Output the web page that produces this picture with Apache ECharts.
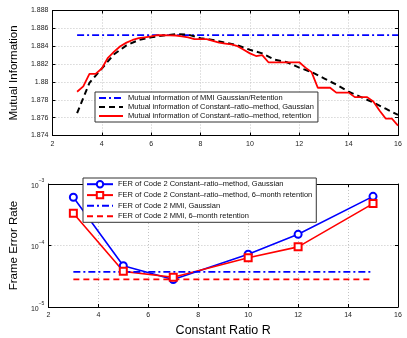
<!DOCTYPE html>
<html>
<head>
<meta charset="utf-8">
<script src="https://cdn.jsdelivr.net/npm/echarts@6/dist/echarts.min.js"></script>
<style>
html, body { margin: 0; padding: 0; background: #fff; }
#chart { width: 407px; height: 338px; }
</style>
</head>
<body>
<div id="chart"></div>
<script>
// top panel: mutual information vs constant ratio R
const mmiMI = 1.88525
const mmiRange = [3, 16]

const gaussR = [3, 3.5, 4, 4.5, 5, 5.5, 6, 6.5, 7, 7.5, 8, 8.5, 9, 9.5, 10, 10.5, 11, 11.5, 12, 12.5, 13, 13.5, 14, 14.5, 15, 15.5, 16]
const gaussMI = [1.8765, 1.8799, 1.8815, 1.8831, 1.8841, 1.8847, 1.8850, 1.8852, 1.88535, 1.8853, 1.8849, 1.8847, 1.8844, 1.8841, 1.8836, 1.8832, 1.8825, 1.8822, 1.8816, 1.8811, 1.8804, 1.8797, 1.8789, 1.8783, 1.8777, 1.8770, 1.8763]

const retR = [3, 3.25, 3.5, 3.75, 4, 4.25, 4.5, 4.75, 5, 5.25, 5.5, 5.75, 6, 6.25, 6.5, 6.75, 7, 7.25, 7.5, 7.75, 8, 8.25, 8.5, 8.75, 9, 9.25, 9.5, 9.75, 10, 10.25, 10.5, 10.75, 11, 11.25, 11.5, 11.75, 12, 12.25, 12.5, 12.75, 13, 13.25, 13.5, 13.75, 14, 14.25, 14.5, 14.75, 15, 15.25, 15.5, 15.75, 16]
const retMI = [1.8789, 1.8795, 1.8809, 1.8809, 1.8815, 1.8827, 1.8834, 1.8840, 1.8844, 1.8847, 1.8849, 1.8850, 1.8851, 1.88523, 1.88525, 1.88522, 1.8852, 1.8851, 1.8850, 1.8848, 1.8848, 1.8848, 1.8846, 1.8844, 1.8843, 1.8842, 1.8840, 1.8836, 1.8832, 1.8829, 1.8830, 1.8822, 1.8822, 1.8822, 1.8822, 1.8822, 1.8822, 1.8816, 1.8811, 1.87935, 1.87935, 1.87935, 1.8788, 1.8788, 1.8788, 1.8783, 1.8783, 1.8783, 1.8778, 1.8768, 1.8759, 1.8759, 1.8751]

// bottom panel: frame error rate
const ferR = [3, 5, 7, 10, 12, 15]
const ferGauss = [6.1e-4, 4.7e-5, 2.8e-5, 7.2e-5, 1.52e-4, 6.3e-4]
const ferRet = [3.35e-4, 3.8e-5, 3.05e-5, 6.3e-5, 9.5e-5, 4.8e-4]
const ferMmiGauss = 3.73e-5
const ferMmiRet = 2.81e-5
const ferMmiRange = [3, 15]
const ferMinorGrid = [2e-5, 3e-5, 4e-5, 5e-5, 6e-5, 7e-5, 8e-5, 9e-5, 2e-4, 3e-4, 4e-4, 5e-4, 6e-4, 7e-4, 8e-4, 9e-4]

const topNames = [
  'Mutual information of MMI Gaussian/Retention',
  'Mutual information of Constant–ratio–method, Gaussian',
  'Mutual information of Constant–ratio–method, retention'
]
const bottomNames = [
  'FER of Code 2 Constant–ratio–method, Gaussian',
  'FER of Code 2 Constant–ratio–method, 6–month retention',
  'FER of Code 2 MMI, Gaussian',
  'FER of Code 2 MMI, 6–month retention'
]

const FONT = 'Liberation Sans'
const BLUE = '#0000ff'
const RED = '#ff0000'
const dashDot = [7, 3, 2, 3]
const dash = [6, 4]

const zip = (xs, ys) => xs.map((x, i) => [x, ys[i]])
// legend entry with only a line, no marker
const lineOnly = name => ({ name, itemStyle: { opacity: 0 } })

const chart = echarts.init(document.getElementById('chart'))

const gridLine = {
  show: true,
  lineStyle: { color: '#c4c4c4', type: [1, 2], width: 1 }
}
const axisLine = { show: true, onZero: false, lineStyle: { color: '#000', width: 1 } }
const tick = { show: true, inside: true, length: 3, lineStyle: { color: '#000' } }
const label = { fontFamily: FONT, fontSize: 7, color: '#222' }

const xMain = (gridIndex, extra) => Object.assign({
  type: 'value', gridIndex, min: 2, max: 16, interval: 2,
  axisLine, axisTick: tick, splitLine: gridLine,
  axisLabel: Object.assign({ margin: 5 }, label)
}, extra)
const xTop = (gridIndex) => ({
  type: 'value', gridIndex, position: 'top', min: 2, max: 16, interval: 2,
  axisLine, axisTick: tick, splitLine: { show: false }, axisLabel: { show: false }
})

const supLabel = (v) => {
  const e = Math.round(Math.log10(v))
  return '{b|10}{s|−' + (-e) + '}'
}

const option = {
  animation: false,
  backgroundColor: '#fff',
  grid: [
    { left: 40, top: 10.5, width: 358, height: 125 },
    { left: 40, top: 184, width: 358, height: 125 }
  ],
  xAxis: [
    xMain(0),
    xTop(0),
    xMain(1, {
      name: 'Constant Ratio R', nameLocation: 'middle', nameGap: 17,
      nameTextStyle: { fontFamily: FONT, fontSize: 12.5, color: '#000' }
    }),
    xTop(1)
  ],
  yAxis: [
    {
      type: 'value', gridIndex: 0, min: 1.874, max: 1.888, interval: 0.002,
      name: 'Mutual Information', nameLocation: 'middle', nameGap: 31,
      nameTextStyle: { fontFamily: FONT, fontSize: 11.5, color: '#000' },
      axisLine, axisTick: tick, splitLine: gridLine,
      axisLabel: Object.assign({ margin: 4, formatter: v => String(+v.toFixed(3)) }, label)
    },
    {
      type: 'value', gridIndex: 0, position: 'right', min: 1.874, max: 1.888, interval: 0.002,
      axisLine, axisTick: tick, splitLine: { show: false }, axisLabel: { show: false }
    },
    {
      type: 'log', logBase: 10, gridIndex: 1, min: 1e-5, max: 1e-3,
      name: 'Frame Error Rate', nameLocation: 'middle', nameGap: 26,
      nameTextStyle: { fontFamily: FONT, fontSize: 11.5, color: '#000' },
      axisLine, axisTick: tick, splitLine: gridLine,
      axisLabel: {
        margin: 4, formatter: supLabel,
        rich: {
          b: { fontFamily: FONT, fontSize: 7, color: '#222', padding: [4, 0, 0, 0], verticalAlign: 'bottom' },
          s: { fontFamily: FONT, fontSize: 5, color: '#222', verticalAlign: 'top' }
        }
      }
    },
    {
      type: 'log', logBase: 10, gridIndex: 1, position: 'right', min: 1e-5, max: 1e-3,
      axisLine, axisTick: tick, splitLine: { show: false }, axisLabel: { show: false }
    }
  ],
  legend: [
    {
      data: topNames.map(lineOnly), orient: 'vertical', left: 95, top: 92,
      backgroundColor: '#fff', borderColor: '#333', borderWidth: 1, borderRadius: 0,
      padding: [2, 4, 2, 3], itemWidth: 24, itemHeight: 10, itemGap: 1,
      textStyle: { fontFamily: FONT, fontSize: 7.5, color: '#111' }
    },
    {
      data: [bottomNames[0], bottomNames[1], lineOnly(bottomNames[2]), lineOnly(bottomNames[3])],
      orient: 'vertical', left: 83, top: 178,
      backgroundColor: '#fff', borderColor: '#333', borderWidth: 1, borderRadius: 0,
      padding: [2, 4, 2, 3], itemWidth: 26, itemHeight: 8, itemGap: 2.5,
      textStyle: { fontFamily: FONT, fontSize: 7.5, color: '#111' }
    }
  ],
  series: [
    {
      name: topNames[0], type: 'line', xAxisIndex: 0, yAxisIndex: 0,
      data: mmiRange.map(x => [x, mmiMI]), symbol: 'none',
      lineStyle: { color: BLUE, width: 1.8, type: dashDot }, itemStyle: { color: BLUE }
    },
    {
      name: topNames[1], type: 'line', xAxisIndex: 0, yAxisIndex: 0,
      data: zip(gaussR, gaussMI), symbol: 'none',
      lineStyle: { color: '#000', width: 2, type: dash }, itemStyle: { color: '#000' }
    },
    {
      name: topNames[2], type: 'line', xAxisIndex: 0, yAxisIndex: 0,
      data: zip(retR, retMI), symbol: 'none',
      lineStyle: { color: RED, width: 1.8 }, itemStyle: { color: RED }
    },
    {
      type: 'line', xAxisIndex: 2, yAxisIndex: 2, data: [], silent: true, z: 1,
      markLine: {
        silent: true, symbol: 'none', label: { show: false },
        lineStyle: { color: '#c4c4c4', type: [1, 2], width: 1 },
        data: ferMinorGrid.map(v => ({ yAxis: v }))
      }
    },
    {
      name: bottomNames[0], type: 'line', xAxisIndex: 2, yAxisIndex: 2,
      data: zip(ferR, ferGauss), symbol: 'emptyCircle', symbolSize: 7,
      lineStyle: { color: BLUE, width: 1.6 }, itemStyle: { color: BLUE, borderWidth: 1.4 }
    },
    {
      name: bottomNames[1], type: 'line', xAxisIndex: 2, yAxisIndex: 2,
      data: zip(ferR, ferRet), symbol: 'emptyRect', symbolSize: 7,
      lineStyle: { color: RED, width: 1.6 }, itemStyle: { color: RED, borderWidth: 1.4 }
    },
    {
      name: bottomNames[2], type: 'line', xAxisIndex: 2, yAxisIndex: 2,
      data: ferMmiRange.map(x => [x, ferMmiGauss]), symbol: 'none',
      lineStyle: { color: BLUE, width: 1.6, type: dashDot }, itemStyle: { color: BLUE }
    },
    {
      name: bottomNames[3], type: 'line', xAxisIndex: 2, yAxisIndex: 2,
      data: ferMmiRange.map(x => [x, ferMmiRet]), symbol: 'none',
      lineStyle: { color: RED, width: 1.6, type: dash }, itemStyle: { color: RED }
    }
  ]
}

chart.setOption(option)
</script>
</body>
</html>
